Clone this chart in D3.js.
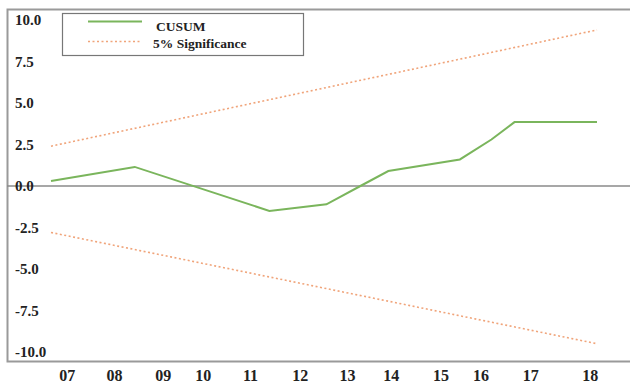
<!DOCTYPE html>
<html><head><meta charset="utf-8">
<script src="https://cdn.jsdelivr.net/npm/d3@7"></script>
<style>body{margin:0;background:#fff}svg{display:block}</style>
</head><body>
<script>
// observation index (quarters)
const cusumT = [0, 6.9, 18, 22.7, 25.5, 27.8, 33.7, 36.3, 38.2, 45];
const cusumV = [0.3, 1.15, -1.5, -1.1, 0.0, 0.9, 1.6, 2.8, 3.85, 3.85];
const sigT = [0, 45];
const sigUpper = [2.4, 9.4];
const sigLower = [-2.8, -9.5];
const xTickPos = [1.3, 5.2, 9.2, 12.5, 16.4, 20.5, 24.4, 28.0, 32.1, 35.4, 39.5, 44.4];
const xTickLabels = ["07","08","09","10","11","12","13","14","15","16","17","18"];
const yTicks = [10, 7.5, 5, 2.5, 0, -2.5, -5, -7.5, -10];

const W = 630, H = 385;
const svg = d3.select("body").append("svg").attr("width", W).attr("height", H);
const x = d3.scaleLinear().domain([0, 45]).range([51, 597]);
const y = d3.scaleLinear().domain([-10, 10]).range([352, 20]);
const font = "'Liberation Serif', 'Times New Roman', serif";

// frame
svg.append("path").attr("d", "M630,9.5 H7.5 V361.5 H630").attr("fill", "none")
  .attr("stroke", "#9a9a9a").attr("stroke-width", 2);
// zero line
svg.append("line").attr("x1", 7).attr("x2", 630).attr("y1", y(0)).attr("y2", y(0))
  .attr("stroke", "#8a8a8a").attr("stroke-width", 1.5);

// y axis labels (inside, left aligned)
const yAxis = d3.axisRight(y).tickValues(yTicks).tickSize(0)
  .tickFormat(d => d3.format(".1f")(d).replace("\u2212", "-"));
const gy = svg.append("g").attr("transform", "translate(15,0)").call(yAxis);
gy.select(".domain").remove();
gy.selectAll("text").attr("font-family", font).attr("font-size", 15).attr("font-weight", "bold")
  .attr("fill", "#222").attr("x", 0).attr("text-anchor", "start");

// x axis labels
const xAxis = d3.axisBottom(x).tickValues(xTickPos).tickSize(0).tickFormat((d, i) => xTickLabels[i]);
const gx = svg.append("g").attr("transform", "translate(0,367)").call(xAxis);
gx.select(".domain").remove();
gx.selectAll("text").attr("font-family", font).attr("font-size", 16).attr("font-weight", "bold").attr("fill", "#222");

const line = d3.line().x(d => x(d[0])).y(d => y(d[1]));
const green = "#7ab55c", orange = "#f0a47a";
svg.append("path").datum(sigT.map((t, i) => [t, sigUpper[i]])).attr("d", line)
  .attr("fill", "none").attr("stroke", orange).attr("stroke-width", 1.6).attr("stroke-dasharray", "2,2.5");
svg.append("path").datum(sigT.map((t, i) => [t, sigLower[i]])).attr("d", line)
  .attr("fill", "none").attr("stroke", orange).attr("stroke-width", 1.6).attr("stroke-dasharray", "2,2.5");
svg.append("path").datum(cusumT.map((t, i) => [t, cusumV[i]])).attr("d", line)
  .attr("fill", "none").attr("stroke", green).attr("stroke-width", 2);

// legend
const lg = svg.append("g");
lg.append("rect").attr("x", 62.5).attr("y", 13.5).attr("width", 241).attr("height", 42)
  .attr("fill", "#fff").attr("stroke", "#777").attr("stroke-width", 1.2);
lg.append("line").attr("x1", 88).attr("x2", 142).attr("y1", 21.5).attr("y2", 21.5)
  .attr("stroke", green).attr("stroke-width", 2);
lg.append("line").attr("x1", 88).attr("x2", 140).attr("y1", 41.5).attr("y2", 41.5)
  .attr("stroke", orange).attr("stroke-width", 1.6).attr("stroke-dasharray", "2,2.5");
lg.append("text").attr("x", 156).attr("y", 31).text("CUSUM")
  .attr("font-family", font).attr("font-size", 13.5).attr("font-weight", "bold").attr("fill", "#222");
lg.append("text").attr("x", 153).attr("y", 48).text("5% Significance")
  .attr("font-family", font).attr("font-size", 13.5).attr("font-weight", "bold").attr("fill", "#222");
</script>
</body></html>
